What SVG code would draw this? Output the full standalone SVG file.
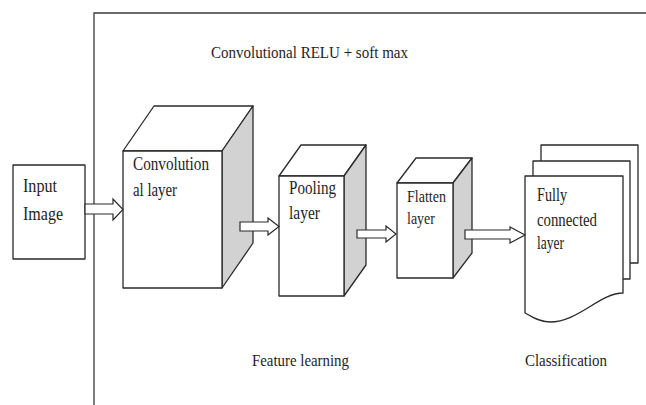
<svg xmlns="http://www.w3.org/2000/svg" width="646" height="405" viewBox="0 0 646 405" font-family="'Liberation Serif', 'DejaVu Serif', serif">
<style>
.ln{fill:none;stroke:#3a3a3a;stroke-width:1.3}
.face{fill:#fff;stroke:#2a2a2a;stroke-width:1.3;stroke-linejoin:round}
.side{fill:#d2d2d2;stroke:#2a2a2a;stroke-width:1.3;stroke-linejoin:round}
.arr{fill:#fff;stroke:#2a2a2a;stroke-width:1.2;stroke-linejoin:miter}
text{font-family:'Liberation Serif','DejaVu Serif',serif;fill:#1e1e1e}
.t{font-size:18px}
.s{font-size:17px}
</style>
<rect width="646" height="405" fill="#fff"/>
<g id="frame">
<path class="ln" d="M94,405 V13 H646"/>
</g>
<g id="title">
<text x="211" y="58" font-size="16.5" textLength="197" lengthAdjust="spacingAndGlyphs">Convolutional RELU + soft max</text>
</g>
<g id="input">
<rect class="face" x="13" y="165" width="72" height="94"/>
<text x="23" y="192" font-size="19" textLength="34" lengthAdjust="spacingAndGlyphs">Input</text>
<text x="23" y="220" font-size="19" textLength="40" lengthAdjust="spacingAndGlyphs">Image</text>
</g>
<g id="conv">
<polygon class="face" points="123,151 154,106 253,106 222,151"/>
<polygon class="side" points="222,151 253,106 253,243 222,288"/>
<rect class="face" x="123" y="151" width="99" height="137"/>
<text class="t" x="133" y="170" textLength="76" lengthAdjust="spacingAndGlyphs">Convolution</text>
<text class="t" x="133" y="196" textLength="44" lengthAdjust="spacingAndGlyphs">al layer</text>
</g>
<g id="pool">
<polygon class="face" points="279,176 301,145 366,145 344,176"/>
<polygon class="side" points="344,176 366,145 366,265 344,296"/>
<rect class="face" x="279" y="176" width="65" height="120"/>
<text class="t" x="289" y="194" textLength="47" lengthAdjust="spacingAndGlyphs">Pooling</text>
<text class="t" x="289" y="219" textLength="31" lengthAdjust="spacingAndGlyphs">layer</text>
</g>
<g id="flatten">
<polygon class="face" points="397,183 416,158 472,158 453,183"/>
<polygon class="side" points="453,183 472,158 472,253 453,278"/>
<rect class="face" x="397" y="183" width="56" height="95"/>
<text x="407" y="202" font-size="16.5" textLength="39" lengthAdjust="spacingAndGlyphs">Flatten</text>
<text x="407" y="224" font-size="16.5" textLength="28" lengthAdjust="spacingAndGlyphs">layer</text>
</g>
<g id="fc">
<rect class="face" x="541" y="145" width="97" height="118"/>
<rect class="face" x="533" y="161" width="97" height="118"/>
<path class="face" d="M525,176 H623 V293 C600,293 578,322 550,322 C540,322 532,317 525,313 Z"/>
<text class="t" x="537" y="201" textLength="30" lengthAdjust="spacingAndGlyphs">Fully</text>
<text class="t" x="537" y="226" textLength="60" lengthAdjust="spacingAndGlyphs">connected</text>
<text class="t" x="537" y="249" textLength="27" lengthAdjust="spacingAndGlyphs">layer</text>
</g>
<g id="connectors">
<polygon class="arr" points="85,204 113,204 113,199 123,209.5 113,220 113,214 85,214"/>
<polygon class="arr" points="240,222 268,222 268,218 279,226.5 268,235 268,231 240,231"/>
<polygon class="arr" points="357,230 386,230 386,226 396,234 386,242 386,238 357,238"/>
<polygon class="arr" points="465,230 510,230 510,227 525,235 510,243 510,239 465,239"/>
</g>
<g id="labels">
<text class="s" x="252" y="366" textLength="97" lengthAdjust="spacingAndGlyphs">Feature learning</text>
<text class="s" x="525" y="366" textLength="82" lengthAdjust="spacingAndGlyphs">Classification</text>
</g>
</svg>
